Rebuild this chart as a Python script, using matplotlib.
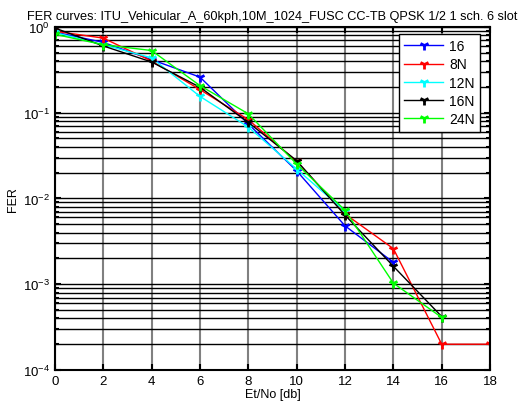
import numpy as np
import matplotlib
matplotlib.use('Agg')
import matplotlib.pyplot as plt
from matplotlib.ticker import LogLocator, NullFormatter

plt.rcParams['font.family'] = ['Liberation Sans', 'DejaVu Sans']
plt.rcParams['mathtext.fontset'] = 'custom'
plt.rcParams['mathtext.rm'] = 'Liberation Sans'

# %% Data
labels = ['16', '8N', '12N', '16N', '24N']
colors = ['#0000ff', '#ff0000', '#00ffff', '#000000', '#00ff00']

x_16 = [0, 2, 4, 6, 8, 10, 12, 14]
fer_16 = [0.87, 0.66, 0.415, 0.26, 0.074, 0.021, 0.0048, 0.0018]

x_8n = [0, 2, 4, 6, 8, 10, 12, 14, 16, 18]
fer_8n = [0.89, 0.74, 0.40, 0.186, 0.083, 0.027, 0.0066, 0.0026, 0.0002, 0.0002]

x_12n = [0, 2, 4, 6, 8, 10, 12]
fer_12n = [0.86, 0.62, 0.435, 0.155, 0.068, 0.022, 0.0071]

x_16n = [0, 2, 4, 6, 8, 10, 12, 14, 16]
fer_16n = [0.97, 0.60, 0.39, 0.198, 0.077, 0.0276, 0.0064, 0.00162, 0.00042]

x_24n = [0, 2, 4, 6, 8, 10, 12, 14, 16]
fer_24n = [0.82, 0.62, 0.53, 0.207, 0.097, 0.0252, 0.0073, 0.00103, 0.00041]

series = [(x_16, fer_16), (x_8n, fer_8n), (x_12n, fer_12n), (x_16n, fer_16n), (x_24n, fer_24n)]

# %% Plot
fig = plt.figure(figsize=(5.27, 4.10), dpi=100)
ax = fig.add_axes([0.104, 0.095, 0.826, 0.837])

for (xs, ys), lab, col in zip(series, labels, colors):
    ax.semilogy(xs, ys, color=col, lw=1.0, marker='1', markersize=7,
                markeredgewidth=2, label=lab)

ax.set_xlim(0, 18)
ax.set_ylim(1e-4, 1)
ax.set_xticks(np.arange(0, 19, 2))
ax.yaxis.set_major_locator(LogLocator(base=10, numticks=10))
ax.yaxis.set_minor_locator(LogLocator(base=10, subs=np.arange(2, 10), numticks=10))
ax.yaxis.set_minor_formatter(NullFormatter())

# MATLAB style grid: black horizontal lines on every decade/minor, gray verticals
ax.grid(True, which='major', axis='y', color='black', lw=1.0)
ax.grid(True, which='minor', axis='y', color='black', lw=1.0)
ax.grid(True, which='major', axis='x', color='#808080', lw=1.5)
ax.set_axisbelow(True)

ax.tick_params(which='both', direction='in', top=True, right=True, labelsize=9.5)
ax.tick_params(which='major', length=4, width=1.5)
ax.tick_params(which='minor', length=3, width=1.5)
for s in ax.spines.values():
    s.set_linewidth(1.5)

ax.set_xlabel('Et/No [db]', fontsize=9, labelpad=1)
ax.set_ylabel('FER', fontsize=9, labelpad=3)
ax.set_title('FER curves: ITU_Vehicular_A_60kph,10M_1024_FUSC CC-TB QPSK 1/2 1 sch. 6 slot',
             fontsize=9.2, pad=6)

leg = ax.legend(loc='upper right', bbox_to_anchor=(0.977, 0.98), borderaxespad=0,
                fontsize=10, fancybox=False, framealpha=1, edgecolor='black',
                handlelength=2.8, handletextpad=0.4, labelspacing=0.3,
                borderpad=0.4)
leg.get_frame().set_linewidth(1.0)

plt.savefig('out.png', dpi=100)
